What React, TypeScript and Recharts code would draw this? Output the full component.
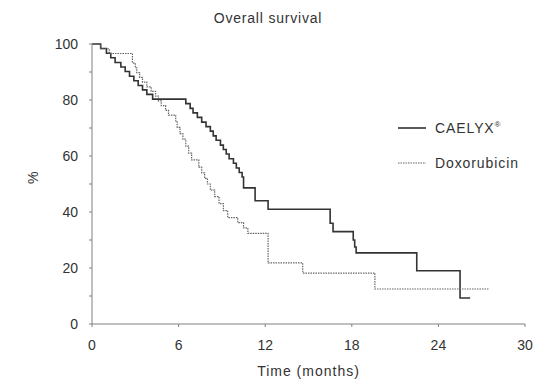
import React from "react";
import { LineChart, Line, XAxis, YAxis } from "recharts";

const caelyxMonths = [0, 0.6, 1.0, 1.3, 1.6, 2.0, 2.3, 2.6, 2.9, 3.2, 3.5, 3.8, 4.2, 6.5, 6.8, 7.0, 7.3, 7.6, 7.9, 8.2, 8.4, 8.6, 8.9, 9.1, 9.3, 9.5, 9.8, 10.0, 10.2, 10.4, 10.5, 11.3, 12.2, 16.5, 16.7, 18.1, 18.2, 18.3, 22.5, 25.5, 26.2];
const caelyxSurvival = [100, 98.4, 96.7, 95.1, 93.4, 91.8, 90.2, 88.5, 86.9, 85.2, 83.6, 82.0, 80.3, 78.7, 77.0, 75.4, 73.8, 72.1, 70.5, 68.9, 67.2, 65.6, 63.9, 62.3, 60.7, 59.0, 57.4, 55.7, 54.1, 52.5, 48.6, 44.0, 41.0, 36.0, 33.0, 30.0, 27.5, 25.4, 19.0, 9.3, 9.3];

const doxoMonths = [0, 0.6, 1.2, 2.8, 3.0, 3.1, 3.3, 3.5, 3.8, 4.1, 4.4, 4.6, 4.8, 5.1, 5.3, 5.8, 5.9, 6.1, 6.3, 6.5, 6.7, 6.9, 7.4, 7.6, 7.8, 8.0, 8.2, 8.5, 8.8, 9.1, 9.4, 10.1, 10.5, 10.8, 12.2, 14.6, 19.6, 27.5];
const doxoSurvival = [100, 98.3, 96.6, 93.2, 91.5, 89.8, 88.1, 86.4, 84.7, 83.1, 81.4, 79.7, 78.0, 76.3, 74.6, 72.5, 70.2, 68.0, 66.0, 63.5, 61.0, 58.6, 56.0, 54.0, 52.0, 50.0, 47.8, 45.5, 43.0, 40.5, 38.0, 36.2, 34.3, 32.4, 21.8, 18.2, 12.5, 12.5];

const xTicks = [0, 6, 12, 18, 24, 30];
const yTicks = [0, 10, 20, 30, 40, 50, 60, 70, 80, 90, 100];

const caelyxData = caelyxMonths.map((m, i) => ({ month: m, value: caelyxSurvival[i] }));
const doxoData = doxoMonths.map((m, i) => ({ month: m, value: doxoSurvival[i] }));

const FONT = "'Liberation Sans', Arial, Helvetica, sans-serif";
const AXIS = "#808080";
const TEXT = "#333";

// legend drawn as a plain overlay so it does not push the plot down
function LegendBox() {
  return (
    <div style={{ position: "absolute", left: 398, top: 117, fontFamily: FONT, fontSize: 14, letterSpacing: 0.9, color: TEXT }}>
      <div style={{ display: "flex", alignItems: "center", height: 22 }}>
        <svg width={28} height={6} style={{ marginRight: 9 }}>
          <line x1={0} y1={3} x2={28} y2={3} stroke="#333" strokeWidth={1.6} />
        </svg>
        <span>CAELYX<sup style={{ fontSize: 8, letterSpacing: 0 }}>®</sup></span>
      </div>
      <div style={{ display: "flex", alignItems: "center", height: 22, marginTop: 13 }}>
        <svg width={28} height={6} style={{ marginRight: 9 }}>
          <line x1={0} y1={3} x2={28} y2={3} stroke="#666" strokeWidth={1.2} strokeDasharray="1.5 1" />
        </svg>
        <span>Doxorubicin</span>
      </div>
    </div>
  );
}

export default function App() {
  return (
    <div style={{ position: "absolute", left: 0, top: 0, width: 547, height: 380, background: "#fff", fontFamily: FONT }}>
      <div style={{ position: "absolute", top: 10, left: 268, transform: "translateX(-50%)", whiteSpace: "nowrap", fontSize: 14, letterSpacing: 0.8, color: TEXT }}>
        Overall survival
      </div>
      <LineChart width={547} height={380} margin={{ top: 44, right: 22, bottom: 3, left: 30 }}>
        <XAxis
          type="number"
          dataKey="month"
          domain={[0, 30]}
          ticks={xTicks}
          allowDuplicatedCategory={false}
          stroke={AXIS}
          tickSize={3}
          tick={{ fill: TEXT, fontSize: 14, fontFamily: FONT }}
          tickMargin={13}
          height={53}
          label={{ value: "Time (months)", position: "insideBottom", offset: 1, fill: TEXT, fontSize: 14, fontFamily: FONT, letterSpacing: 1 }}
        />
        <YAxis
          type="number"
          domain={[0, 100]}
          ticks={yTicks}
          interval={0}
          stroke={AXIS}
          tickSize={3}
          tickMargin={11}
          width={62}
          tick={{ fill: TEXT, fontSize: 14, fontFamily: FONT }}
          tickFormatter={(v: number) => (v % 20 === 0 ? String(v) : "")}
          label={{ value: "%", angle: -90, position: "insideLeft", offset: 3, fill: TEXT, fontSize: 14, fontFamily: FONT }}
        />
        <Line
          data={caelyxData}
          dataKey="value"
          type="stepAfter"
          stroke="#333"
          strokeWidth={1.6}
          dot={false}
          isAnimationActive={false}
        />
        <Line
          data={doxoData}
          dataKey="value"
          type="stepAfter"
          stroke="#666"
          strokeWidth={1.2}
          strokeDasharray="1.5 1"
          dot={false}
          isAnimationActive={false}
        />
      </LineChart>
      <LegendBox />
    </div>
  );
}
